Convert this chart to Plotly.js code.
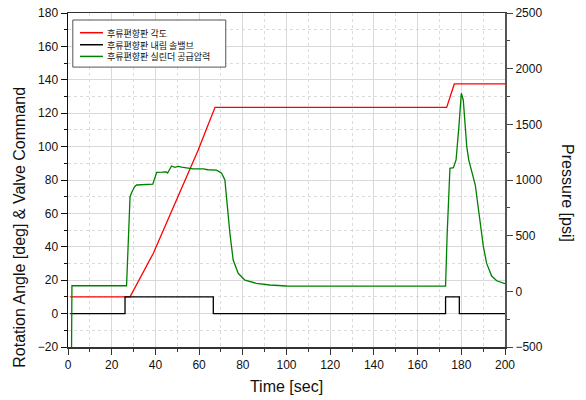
<!DOCTYPE html>
<html>
<head>
<meta charset="utf-8">
<script src="https://cdn.plot.ly/plotly-3.0.1.min.js"></script>
<style>html,body{margin:0;padding:0;background:#fff;}#chart{width:586px;height:400px;}</style>
</head>
<body>
<div id="chart"></div>
<script>
// ---- data ----
const seriesNames = ['후류편향판 각도', '후류편향판 내림 솔밸브', '후류편향판 실린더 공급압력'];

const angleTime = [1, 28.4, 39, 59.6, 63.5, 67.3, 100, 140, 173.3, 176.8, 200];
const angleDeg  = [10, 10, 36, 98, 111, 123.5, 123.5, 123.5, 123.5, 137.5, 137.5];

const cmdTime = [1, 26.1, 66.5, 172.8, 179.1, 200];
const cmdValue = [0, 10, 0, 10, 0, 0];

const pressTime = [1.6, 1.8, 26.8, 27.6, 28.4, 29.2, 30.5, 31.4, 35, 38.8, 39.6, 40.6, 43, 45, 45.6, 47.4, 48.9, 50.4, 52, 54.3, 57.3, 61.9, 64, 68, 70.3, 71.8, 72.6, 74.1, 75.6, 77.9, 81, 86.2, 92.4, 100, 130, 172.8,
                   173.5, 174.3, 174.8, 176.4, 177.6, 178.9, 180, 180.9, 181.4, 182.5, 183.4, 185.5, 186.4, 187.3, 188.6, 190.1, 191.6, 193.9, 196.2, 198.9, 200];
const pressPsi  = [-600, 50, 50, 500, 850, 890, 940, 955, 960, 962, 1010, 1069, 1070, 1072, 1062, 1126, 1114, 1122, 1115, 1108, 1100, 1100, 1092, 1088, 1060, 1000, 820, 521, 281, 162, 101, 72, 57, 48, 47, 47,
                   500, 1000, 1105, 1110, 1180, 1479, 1779, 1719, 1569, 1300, 1180, 1030, 955, 820, 641, 401, 251, 137, 95, 72, 68];

// ---- styles ----
const lineColors = ['#ff0000', '#000000', '#008000'];
const font = 'Liberation Sans, Arial, sans-serif';
const krFont = 'Noto Sans CJK KR, sans-serif';

const traces = [
  {x: angleTime, y: angleDeg, name: seriesNames[0], type: 'scatter', mode: 'lines',
   line: {color: lineColors[0], width: 1.3}, yaxis: 'y', showlegend: false},
  {x: cmdTime, y: cmdValue, name: seriesNames[1], type: 'scatter', mode: 'lines',
   line: {color: lineColors[1], width: 1.3, shape: 'hv'}, yaxis: 'y', showlegend: false},
  {x: pressTime, y: pressPsi, name: seriesNames[2], type: 'scatter', mode: 'lines',
   line: {color: lineColors[2], width: 1.3}, yaxis: 'y2', showlegend: false}
];

// manual legend (paper coords)
const legRows = [0.941, 0.905, 0.870];
const shapes = [{type: 'rect', xref: 'paper', yref: 'paper', x0: 0.011, x1: 0.361, y0: 0.838, y1: 0.979,
  line: {color: '#555', width: 1}, fillcolor: '#ffffff', layer: 'above'}];
seriesNames.forEach((n, i) => {
  shapes.push({type: 'line', xref: 'paper', yref: 'paper', x0: 0.0275, x1: 0.080, y0: legRows[i], y1: legRows[i],
    line: {color: lineColors[i], width: 1.5}, layer: 'above'});
});
const annotations = [
  {xref: 'paper', yref: 'paper', x: 0.086, y: legRows[1], xanchor: 'left', yanchor: 'middle', align: 'left',
   text: seriesNames.join('<br>'), showarrow: false, borderpad: 0, font: {family: krFont, size: 9, color: '#111'}},
  {xref: 'paper', yref: 'paper', x: -0.110, y: 0.36, text: 'Rotation Angle [deg] & Valve Command',
   textangle: -90, showarrow: false, xanchor: 'center', yanchor: 'middle', font: {family: font, size: 16, color: '#111'}},
  {xref: 'paper', yref: 'paper', x: 1.144, y: 0.461, text: 'Pressure [psi]',
   textangle: 90, showarrow: false, xanchor: 'center', yanchor: 'middle', font: {family: font, size: 16, color: '#111'}}
];

const gridMajor = '#d9d9d9';
const gridMinor = '#dcdcdc';

const layout = {
  width: 586, height: 400,
  margin: {l: 68, r: 81, t: 13, b: 53, pad: 0},
  paper_bgcolor: '#fff', plot_bgcolor: '#fff',
  font: {family: font, size: 12, color: '#111'},
  showlegend: false,
  xaxis: {
    range: [0, 200], dtick: 20, tick0: 0, ticks: 'outside', ticklen: 6, tickwidth: 1, tickcolor: '#333',
    showline: true, linecolor: '#333', linewidth: 1.5, mirror: true, zeroline: false,
    showgrid: true, gridcolor: gridMajor, gridwidth: 1,
    minor: {dtick: 10, ticks: 'outside', ticklen: 3, tickcolor: '#333', showgrid: true, gridcolor: gridMinor, griddash: 'dot'},
    tickfont: {family: font, size: 12, color: '#111'},
    title: {text: 'Time [sec]', font: {family: font, size: 16, color: '#111'}, standoff: 10}
  },
  yaxis: {
    range: [-20, 180], dtick: 20, tick0: 0, ticks: 'outside', ticklen: 6, tickwidth: 1, tickcolor: '#111',
    showline: true, linecolor: '#111', linewidth: 1.5, mirror: true, zeroline: false,
    showgrid: true, gridcolor: gridMajor, gridwidth: 1,
    minor: {dtick: 10, ticks: 'outside', ticklen: 3, tickcolor: '#111', showgrid: true, gridcolor: gridMinor, griddash: 'dot'},
    tickfont: {family: font, size: 12, color: '#111'}
  },
  yaxis2: {
    overlaying: 'y', side: 'right', range: [-500, 2500], dtick: 500, tick0: 0,
    ticks: 'outside', ticklen: 6, tickwidth: 1, tickcolor: '#444',
    showline: true, linecolor: '#555', linewidth: 2, zeroline: false, showgrid: false,
    minor: {dtick: 250, ticks: 'outside', ticklen: 3, tickcolor: '#444', showgrid: false},
    tickfont: {family: font, size: 12, color: '#111'}
  },
  shapes: shapes,
  annotations: annotations
};

Plotly.newPlot('chart', traces, layout, {displayModeBar: false, staticPlot: true});
</script>
</body>
</html>
